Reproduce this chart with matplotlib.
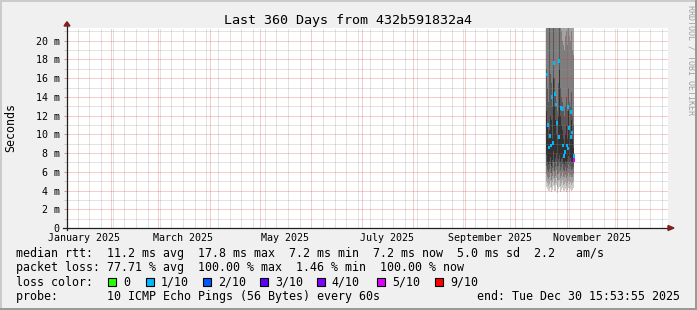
import matplotlib
matplotlib.use('Agg')
import matplotlib.pyplot as plt
import matplotlib.dates as mdates
from matplotlib.patches import Rectangle, Polygon
from matplotlib.ticker import MultipleLocator, FuncFormatter
import pandas as pd

plt.rcParams['font.family'] = 'DejaVu Sans Mono'

# graph window: 360 days
x_start = pd.Timestamp('2025-01-05 14:00')
x_end = x_start + pd.Timedelta(days=360)
y_top = 21.36  # ms

# smoke columns (one rrd step = 0.6 days)
smoke_start = pd.Timestamp('2025-10-19 08:00')
smoke_step = pd.Timedelta(hours=14.4)

# sorted ping rtts per column, ms
ping1 = [4.4, 4.2, 3.9, 4.0, 4.3, 3.8, 4.1, 4.5, 3.9, 4.0, 4.6, 3.7, 4.2, 4.4,
         3.8, 4.1, 4.3, 3.9, 4.0, 4.2, 3.8, 4.1, 4.3, 4.0, 4.2, 3.9, 4.1, 4.3]
ping2 = [5.0, 4.8, 4.5, 4.7, 5.0, 4.4, 4.9, 5.2, 4.6, 4.8, 5.3, 4.4, 5.0, 5.1,
         4.5, 4.8, 5.1, 4.6, 4.7, 4.9, 4.5, 4.8, 5.0, 4.7, 4.9, 4.6, 4.8, 5.0]
ping3 = [5.8, 5.5, 5.2, 5.4, 5.9, 5.1, 5.6, 6.1, 5.3, 5.6, 6.2, 5.1, 5.8, 6.0,
         5.3, 5.6, 6.0, 5.4, 5.4, 5.7, 5.3, 5.6, 5.9, 5.5, 5.7, 5.4, 5.5, 5.8]
ping4 = [6.6, 6.2, 6.0, 6.3, 6.8, 5.9, 6.4, 7.0, 6.1, 6.5, 7.1, 5.8, 6.6, 6.9,
         6.2, 6.5, 6.8, 6.2, 6.1, 6.5, 6.1, 6.4, 6.8, 6.3, 6.6, 6.2, 6.3, 6.5]
ping5 = [7.8, 7.0, 6.8, 7.2, 7.6, 6.6, 7.3, 8.2, 7.0, 7.5, 8.0, 6.6, 7.4, 7.8,
         7.1, 7.4, 7.6, 6.9, 6.8, 7.2, 6.9, 7.2, 7.7, 7.1, 7.5, 7.0, 7.1, 7.2]
ping6 = [12.5, 11.0, 9.5, 10.5, 12.0, 11.5, 9.5, 16.0, 13.0, 11.5, 10.0, 9.5, 12.0, 17.0,
         12.0, 11.0, 10.5, 9.5, 9.0, 10.0, 11.0, 9.5, 12.5, 10.5, 10.0, 11.5, 9.5, 8.5]
ping7 = [17.0, 15.0, 13.5, 22.5, 16.5, 15.5, 13.0, 23.0, 16.0, 14.5, 13.5, 12.5, 15.5, 22.5,
         15.0, 14.0, 13.5, 12.5, 12.0, 13.0, 14.0, 12.5, 15.0, 13.5, 13.0, 14.5, 12.0, 11.0]
ping8 = [24, 25, 23, 27, 26, 24, 22.5, 28, 25, 23, 22.5, 22, 24, 27,
         22, 21, 20, 19.5, 19, 20.5, 21, 19.5, 22, 20.5, 20, 21, 19, 18.5]
ping9 = [31, 33, 30, 34, 35, 32, 29, 33, 32, 30, 29, 28, 31, 34,
         30, 28, 27, 26, 25, 27, 28, 26, 30, 28, 27, 29, 26, 24]
ping10 = [40, 44, 38, 45, 47, 42, 37, 43, 41, 39, 36, 35, 40, 46,
          38, 36, 34, 33, 31, 34, 36, 32, 39, 35, 34, 37, 32, 29]

# median rtt samples: column index, value (ms), lost pings out of 10
med_col = [0, 1, 2, 3, 4, 5, 6, 7, 8, 9, 10, 12, 12, 14, 15, 16, 17, 18,
           20, 21, 21, 22, 24, 24, 25, 27, 27]
med_rtt = [16.4, 11.0, 8.6, 9.8, 8.8, 14.0, 9.1, 17.6, 14.3, 13.2, 11.2, 9.75, 17.8, 12.8,
           12.7, 8.8, 7.7, 8.1, 8.8, 8.5, 12.9, 10.7, 9.7, 12.4, 10.2, 7.65, 7.26]
med_loss = [1, 1, 1, 1, 1, 1, 1, 1, 1, 1, 1, 1, 1, 1,
            1, 1, 1, 1, 1, 1, 1, 1, 1, 1, 1, 1, 5]

loss_levels = [0, 1, 2, 3, 4, 5, 9]
loss_labels = ['0', '1/10', '2/10', '3/10', '4/10', '5/10', '9/10']
loss_colors = ['#26ff00', '#00b8ff', '#0059ff', '#5e00ff', '#7e00ff', '#dd00ff', '#ff0000']

month_labels = ['January 2025', 'March 2025', 'May 2025', 'July 2025',
                'September 2025', 'November 2025']
month_label_dates = ['2025-01-16', '2025-03-16', '2025-05-16', '2025-07-16',
                     '2025-09-16', '2025-11-16']

smoke_grays = ['#cacaca', '#a4a4a4', '#7e7e7e', '#585858', '#323232']

W, H = 697, 310
fig = plt.figure(figsize=(W / 100, H / 100), dpi=100, facecolor='#f0f0f0')


def fx(x):
    return x / W


def fy(y):
    return 1 - y / H


ax = fig.add_axes([fx(67), fy(228), 601 / W, 200 / H])
ax.set_facecolor('white')
for s in ax.spines.values():
    s.set_visible(False)

ax.set_xlim(mdates.date2num(x_start), mdates.date2num(x_end))
ax.set_ylim(0, y_top)

# smoke: outer pair lightest, inner pair darkest
pings = [ping1, ping2, ping3, ping4, ping5, ping6, ping7, ping8, ping9, ping10]
step_days = smoke_step / pd.Timedelta(days=1)
t_cols = list(mdates.date2num(pd.date_range(smoke_start, periods=len(ping1), freq=smoke_step)))
t_edges = t_cols + [t_cols[-1] + step_days]
for k in range(5):
    lo = pings[k] + pings[k][-1:]
    hi = pings[9 - k] + pings[9 - k][-1:]
    ax.fill_between(t_edges, lo, hi, step='post', color=smoke_grays[k], linewidth=0,
                    zorder=1)

# median rtt, coloured by loss
for c, v, l in zip(med_col, med_rtt, med_loss):
    ax.bar(t_cols[0] + c * step_days, 0.4, bottom=v - 0.2, width=1.2, align='edge',
           color=loss_colors[loss_levels.index(l)], linewidth=0, zorder=4)

# grid (semi-transparent, like rrdtool)
ax.xaxis.set_major_locator(mdates.MonthLocator())
ax.xaxis.set_minor_locator(mdates.WeekdayLocator(byweekday=mdates.SU))
ax.yaxis.set_major_locator(MultipleLocator(2))
ax.yaxis.set_minor_locator(MultipleLocator(1))
ax.grid(which='minor', color='#8f8f8f', alpha=0.5, linestyle=(0, (1, 1)), linewidth=0.72,
        zorder=2)
ax.grid(which='major', color='#de3030', alpha=0.5, linestyle=(0, (1, 1)), linewidth=0.72,
        zorder=3)
ax.set_axisbelow(False)
ax.tick_params(axis='x', which='both', length=0, labelbottom=False)
ax.tick_params(axis='y', which='major', length=2.2, width=0.72, color='#e09090',
               pad=3.2, labelsize=7.2)
ax.tick_params(axis='y', which='minor', length=2.2, width=0.72, color='#c8c8c8')
ax.yaxis.set_major_formatter(FuncFormatter(lambda v, p: '0' if v == 0 else '%d m' % v))

for lab, d in zip(month_labels, month_label_dates):
    ax.text(mdates.date2num(pd.Timestamp(d)), -12.7 / 200, lab, transform=ax.get_xaxis_transform(),
            ha='center', va='baseline', fontsize=7.2)

# axes with arrows
ax.plot([0, 0], [-1.5 / 200, 1.01], transform=ax.transAxes, clip_on=False,
        color='#1f1f1f', linewidth=0.9, zorder=5)
ax.plot([-4 / 601, 1.0], [0, 0], transform=ax.transAxes, clip_on=False,
        color='#1f1f1f', linewidth=0.9, zorder=5)
ax.add_patch(Polygon([(-3 / 601, 1.01), (3 / 601, 1.01), (0, 1.0315)], closed=True,
                     transform=ax.transAxes, clip_on=False, color='#7f1f1f', zorder=5))
ax.add_patch(Polygon([(1.0, 2.5 / 200), (1.0, -2.5 / 200), (1 + 6 / 601, 0)], closed=True,
                     transform=ax.transAxes, clip_on=False, color='#7f1f1f', zorder=5))

# frame shading
fig.add_artist(Rectangle((0, fy(2)), 1, 2 / H, transform=fig.transFigure, color='#cbcbcb', lw=0))
fig.add_artist(Rectangle((0, 0), 2 / W, 1, transform=fig.transFigure, color='#cbcbcb', lw=0))
fig.add_artist(Rectangle((0, 0), 1, 2 / H, transform=fig.transFigure, color='#999999', lw=0))
fig.add_artist(Rectangle((fx(695), 0), 2 / W, 1, transform=fig.transFigure, color='#999999', lw=0))

# texts
fig.text(fx(348.5), fy(24), 'Last 360 Days from 432b591832a4', ha='center', va='baseline',
         fontsize=9.6)
fig.text(fx(10.5), fy(127), 'Seconds', rotation=90, ha='center', va='center', fontsize=8.4)
fig.text(fx(691.5), fy(5), 'RRDTOOL / TOBI OETIKER', rotation=270, ha='center', va='top',
         fontsize=6, color='#a0a0a0')

fig.text(fx(16), fy(257.3),
         'median rtt:  11.2 ms avg  17.8 ms max  7.2 ms min  7.2 ms now  5.0 ms sd  2.2   am/s',
         ha='left', va='baseline', fontsize=8.4)
fig.text(fx(16), fy(271.5),
         'packet loss: 77.71 % avg  100.00 % max  1.46 % min  100.00 % now',
         ha='left', va='baseline', fontsize=8.4)
fig.text(fx(16), fy(285.7), 'loss color:', ha='left', va='baseline', fontsize=8.4)
swatch_x = [108.3, 146, 203.3, 260, 316.7, 377.3, 435]
for sx, lab, col in zip(swatch_x, loss_labels, loss_colors):
    fig.add_artist(Rectangle((fx(sx), fy(286)), 8 / W, 8 / H, transform=fig.transFigure,
                             facecolor=col, edgecolor='black', lw=0.8))
    fig.text(fx(sx + 15), fy(285.7), lab, ha='left', va='baseline', fontsize=8.4)
fig.text(fx(16), fy(300), 'probe:       10 ICMP Echo Pings (56 Bytes) every 60s',
         ha='left', va='baseline', fontsize=8.4)
fig.text(fx(680), fy(300), 'end: Tue Dec 30 15:53:55 2025', ha='right', va='baseline',
         fontsize=8.4)

fig.savefig('out.png', dpi=100, facecolor=fig.get_facecolor())
